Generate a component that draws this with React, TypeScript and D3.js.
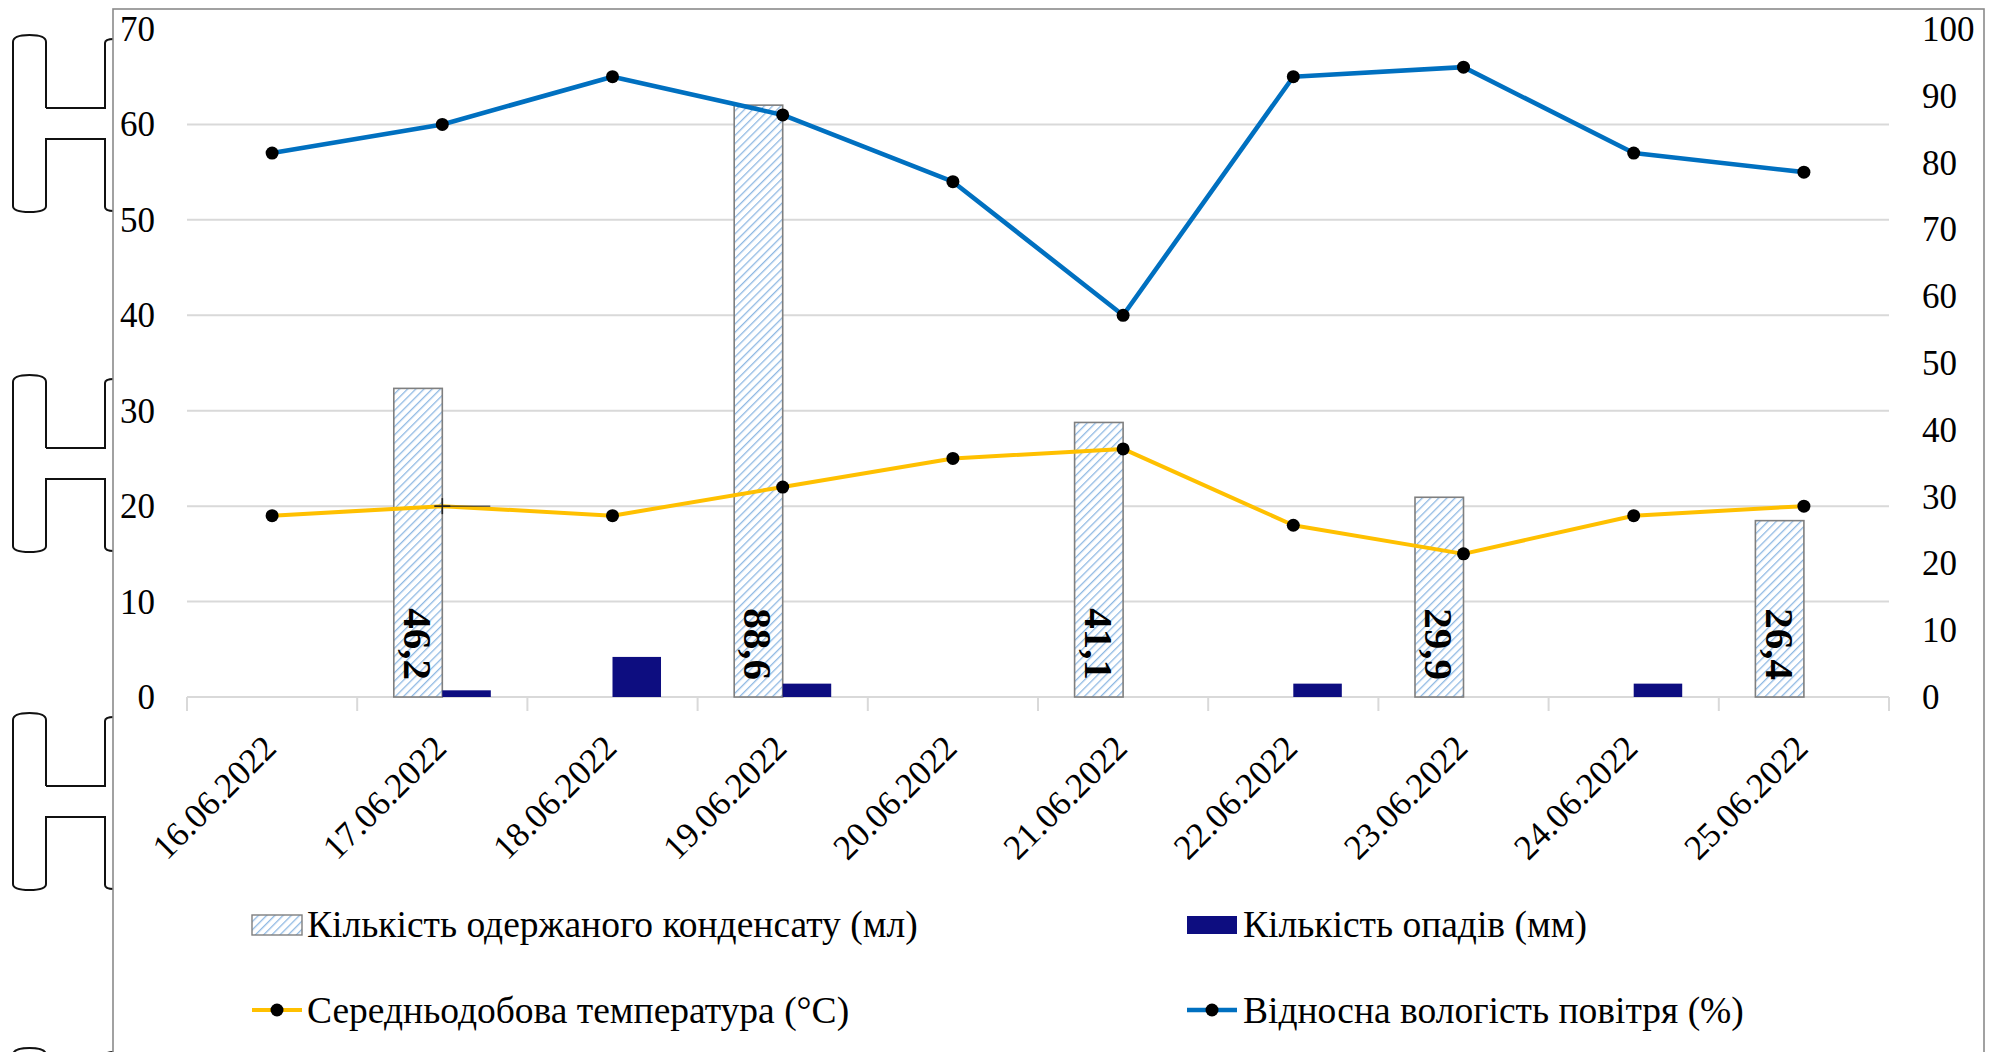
import React from 'react';
import * as d3 from 'd3';

// Observation dates
const dates = [
  '16.06.2022', '17.06.2022', '18.06.2022', '19.06.2022', '20.06.2022',
  '21.06.2022', '22.06.2022', '23.06.2022', '24.06.2022', '25.06.2022',
];

// Bars (secondary axis, 0–100)
const condensate: (number | null)[] = [null, 46.2, null, 88.6, null, 41.1, null, 29.9, null, 26.4];
const precipitation = [0, 1, 6, 2, 0, 0, 2, 0, 2, 0];

// Lines (primary axis, 0–70)
const temperature = [19, 20, 19, 22, 25, 26, 18, 15, 19, 20];
const humidity = [57, 60, 65, 61, 54, 40, 65, 66, 57, 55];

const leftTicks = [0, 10, 20, 30, 40, 50, 60, 70];
const rightTicks = [0, 10, 20, 30, 40, 50, 60, 70, 80, 90, 100];

const seriesNames = {
  condensate: 'Кількість одержаного конденсату (мл)',
  precipitation: 'Кількість опадів (мм)',
  temperature: 'Середньодобова температура (°C)',
  humidity: 'Відносна вологість повітря (%)',
};

const FONT = `'Liberation Serif', 'Times New Roman', serif`;
const BLUE = '#0070c0';
const GOLD = '#ffc000';
const NAVY = '#0d0d80';
const GRID = '#d9d9d9';

const txt = (size: number, bold = false): React.CSSProperties =>
  bold ? { fontFamily: FONT, fontSize: size, fontWeight: 'bold' } : { fontFamily: FONT, fontSize: size };

// Outline shapes sitting in the page margin to the left of the chart
function Bracket({ top }: { top: number }) {
  const T = top;
  const d = [
    `M46,${T + 73} V${T + 7} Q46,${T} 29.5,${T} Q13,${T} 13,${T + 7}`,
    `V${T + 171} Q13,${T + 177} 29.5,${T + 177} Q46,${T + 177} 46,${T + 171}`,
    `V${T + 104} H105 V${T + 172} Q105,${T + 176} 114,${T + 176}`,
    `M46,${T + 73} H105 V${T + 8} Q105,${T + 4} 114,${T + 4}`,
  ].join(' ');
  return <path d={d} fill="none" stroke="#111" strokeWidth={2} />;
}

export default function App() {
  const W = 1995;
  const H = 1052;

  const x = d3.scaleBand<string>().domain(dates).range([187, 1889]).paddingInner(0).paddingOuter(0);
  const yL = d3.scaleLinear().domain([0, 70]).range([697, 29]);
  const yR = d3.scaleLinear().domain([0, 100]).range([697, 29]);
  const step = x.bandwidth();
  const bw = step * 0.285;
  const cx = (d: string) => (x(d) as number) + step / 2;
  const base = yL(0);

  const line = d3
    .line<number>()
    .x((_, i) => cx(dates[i]))
    .y((v) => yL(v));

  const boundaries = d3.range(dates.length + 1).map((i) => 187 + i * step);

  const legendRow1 = 925;
  const legendRow2 = 1010;
  const legendSize = 37.5;

  return (
    <svg width={W} height={H} style={{ position: 'absolute', left: 0, top: 0, background: '#fff' }}>
      <defs>
        <pattern id="hatch" patternUnits="userSpaceOnUse" width={5.8} height={5.8} patternTransform="rotate(45)">
          <rect width={5.8} height={5.8} fill="#ffffff" />
          <line x1={0} y1={0} x2={0} y2={5.8} stroke="#8fb9e3" strokeWidth={2.6} />
        </pattern>
      </defs>

      {[35, 375, 713, 1048].map((t) => (
        <Bracket key={t} top={t} />
      ))}

      {/* chart frame */}
      <rect x={113} y={9} width={1871} height={1100} fill="#fff" stroke="#8a8a8a" strokeWidth={1.6} />

      {/* gridlines */}
      {leftTicks
        .filter((t) => t > 0 && t < 70)
        .map((t) => (
          <line key={t} x1={187} x2={1889} y1={yL(t)} y2={yL(t)} stroke={GRID} strokeWidth={2} />
        ))}

      {/* category axis */}
      <line x1={187} x2={1889} y1={base} y2={base} stroke={GRID} strokeWidth={2} />
      {boundaries.map((bx, i) => (
        <line key={i} x1={bx} x2={bx} y1={base} y2={base + 14} stroke={GRID} strokeWidth={2} />
      ))}

      {/* left axis labels */}
      {leftTicks.map((t) => (
        <text key={t} x={155} y={yL(t) + 12} textAnchor="end" style={txt(35)}>
          {t}
        </text>
      ))}

      {/* right axis labels */}
      {rightTicks.map((t) => (
        <text key={t} x={1922} y={yR(t) + 12} textAnchor="start" style={txt(35)}>
          {t}
        </text>
      ))}

      {/* condensate bars */}
      {dates.map((d, i) => {
        const v = condensate[i];
        if (v == null) return null;
        const x0 = cx(d) - bw;
        return (
          <rect key={d} x={x0} y={yR(v)} width={bw} height={base - yR(v)} fill="url(#hatch)" stroke="#7f7f7f" strokeWidth={1.6} />
        );
      })}

      {/* precipitation bars */}
      {dates.map((d, i) => {
        const v = precipitation[i];
        if (!v) return null;
        return <rect key={d} x={cx(d)} y={yR(v)} width={bw} height={base - yR(v)} fill={NAVY} />;
      })}

      {/* condensate value labels */}
      {dates.map((d, i) => {
        const v = condensate[i];
        if (v == null) return null;
        const bxc = cx(d) - bw / 2;
        const tx = bxc - 14;
        const ty = base - 17;
        return (
          <text key={d} x={tx} y={ty} transform={`rotate(90 ${tx} ${ty})`} textAnchor="end" style={txt(41, true)}>
            {String(v).replace('.', ',')}
          </text>
        );
      })}

      {/* humidity line */}
      <path d={line(humidity) || ''} fill="none" stroke={BLUE} strokeWidth={4.6} strokeLinejoin="round" />
      {humidity.map((v, i) => (
        <circle key={i} cx={cx(dates[i])} cy={yL(v)} r={6.5} fill="#000" />
      ))}

      {/* temperature line */}
      <path d={line(temperature) || ''} fill="none" stroke={GOLD} strokeWidth={4} strokeLinejoin="round" />
      {temperature.map((v, i) => {
        const px = cx(dates[i]);
        const py = yL(v);
        if (i === 1) {
          return (
            <g key={i} stroke="#222" strokeWidth={1.6}>
              <line x1={px - 8} x2={px + 8} y1={py} y2={py} />
              <line x1={px} x2={px} y1={py - 8} y2={py + 8} />
              <line x1={px} x2={px + 48} y1={py} y2={py} strokeWidth={1} />
            </g>
          );
        }
        return <circle key={i} cx={px} cy={py} r={6.5} fill="#000" />;
      })}

      {/* date labels */}
      {dates.map((d) => {
        const ax = cx(d) + 6;
        const ay = 750;
        return (
          <text key={d} x={ax} y={ay} transform={`rotate(-45 ${ax} ${ay})`} textAnchor="end" style={txt(35)}>
            {d}
          </text>
        );
      })}

      {/* legend */}
      <rect x={252} y={legendRow1 - 10} width={50} height={20} fill="url(#hatch)" stroke="#7f7f7f" strokeWidth={1.4} />
      <text x={307} y={legendRow1 + 12} style={txt(legendSize)}>{seriesNames.condensate}</text>

      <rect x={1187} y={legendRow1 - 9} width={50} height={18} fill={NAVY} />
      <text x={1243} y={legendRow1 + 12} style={txt(legendSize)}>{seriesNames.precipitation}</text>

      <line x1={252} x2={302} y1={legendRow2} y2={legendRow2} stroke={GOLD} strokeWidth={4} />
      <circle cx={277} cy={legendRow2} r={6.5} fill="#000" />
      <text x={307} y={legendRow2 + 13} style={txt(legendSize)}>{seriesNames.temperature}</text>

      <line x1={1187} x2={1237} y1={legendRow2} y2={legendRow2} stroke={BLUE} strokeWidth={4.6} />
      <circle cx={1212} cy={legendRow2} r={6.5} fill="#000" />
      <text x={1243} y={legendRow2 + 13} style={txt(legendSize)}>{seriesNames.humidity}</text>
    </svg>
  );
}
